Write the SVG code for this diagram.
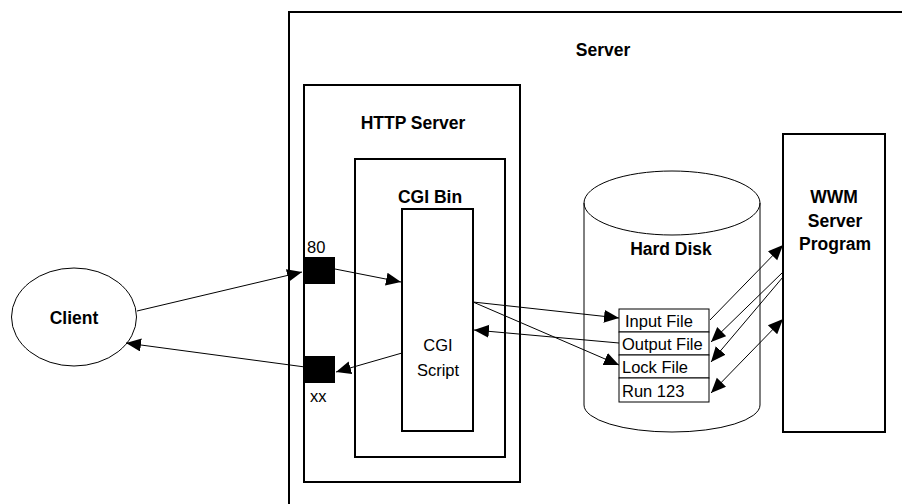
<svg xmlns="http://www.w3.org/2000/svg" width="902" height="504" viewBox="0 0 902 504">
<style>
.box{fill:none;stroke:#000;stroke-width:2}
.thin{fill:#fff;stroke:#000;stroke-width:1}
.b{font-family:"Liberation Sans",Arial,sans-serif;font-weight:bold;font-size:17.5px;fill:#000;text-anchor:middle}
.r{font-family:"Liberation Sans",Arial,sans-serif;font-size:16.5px;fill:#000}
.c{fill:none;stroke:#000;stroke-width:1}
</style>
<defs>
<marker id="ah" markerUnits="userSpaceOnUse" markerWidth="16" markerHeight="14" refX="15" refY="6.5" orient="auto">
<path d="M0,0 L15,6.5 L0,13 z" fill="#000"/>
</marker>
<marker id="as" markerUnits="userSpaceOnUse" markerWidth="16" markerHeight="14" refX="0" refY="6.5" orient="auto">
<path d="M15,0 L0,6.5 L15,13 z" fill="#000"/>
</marker>
</defs>
<rect width="902" height="504" fill="#fff"/>

<g id="server">
<rect class="box" x="289" y="12" width="700" height="600"/>
<text class="b" x="603" y="56">Server</text>
</g>

<g id="http-server">
<rect class="box" x="304" y="85" width="216" height="397"/>
<text class="b" x="413" y="129">HTTP Server</text>
</g>

<g id="cgi-bin">
<rect class="box" x="355" y="159" width="150" height="298"/>
<text class="b" x="430" y="203">CGI Bin</text>
</g>

<g id="cgi-script">
<rect class="box" x="402" y="209" width="71" height="222"/>
<text class="r" x="438" y="351" text-anchor="middle" font-size="17">CGI</text>
<text class="r" x="438" y="376" text-anchor="middle" font-size="17">Script</text>
</g>

<g id="port-80">
<rect x="305" y="257" width="30" height="27" fill="#000"/>
<text class="r" x="307" y="253" font-size="15">80</text>
</g>

<g id="port-xx">
<rect x="305" y="356" width="30" height="27" fill="#000"/>
<text class="r" x="310" y="402" font-size="15">xx</text>
</g>

<g id="client">
<ellipse class="thin" cx="74" cy="317" rx="62.5" ry="49"/>
<text class="b" x="74" y="324">Client</text>
</g>

<g id="hard-disk">
<path class="thin" d="M584,203 A88,32 0 0 1 760,203 L760,405 A88,27 0 0 1 584,405 Z"/>
<path class="c" d="M584,203 A88,32 0 0 0 760,203"/>
<text class="b" x="671" y="255">Hard Disk</text>
</g>

<g id="input-file">
<rect class="thin" x="619" y="309" width="90" height="23"/>
<text class="r" x="625" y="327">Input File</text>
</g>
<g id="output-file">
<rect class="thin" x="619" y="332" width="90" height="23"/>
<text class="r" x="622" y="350">Output File</text>
</g>
<g id="lock-file">
<rect class="thin" x="619" y="355" width="90" height="23"/>
<text class="r" x="622" y="373">Lock File</text>
</g>
<g id="run-123">
<rect class="thin" x="619" y="378" width="90" height="24"/>
<text class="r" x="622" y="397">Run 123</text>
</g>

<g id="wwm-server-program">
<rect class="box" x="783" y="134" width="102" height="298"/>
<text class="b" x="834" y="203">WWM</text>
<text class="b" x="835" y="227">Server</text>
<text class="b" x="835" y="250">Program</text>
</g>

<g id="connectors">
<line class="c" x1="137" y1="311" x2="302" y2="272" marker-end="url(#ah)"/>
<line class="c" x1="305" y1="367" x2="126" y2="343" marker-end="url(#ah)"/>
<line class="c" x1="335" y1="269" x2="401" y2="282" marker-end="url(#ah)"/>
<line class="c" x1="402" y1="353" x2="336" y2="372" marker-end="url(#ah)"/>
<line class="c" x1="473" y1="302" x2="619" y2="318" marker-end="url(#ah)"/>
<line class="c" x1="473" y1="302" x2="619" y2="365" marker-end="url(#ah)"/>
<line class="c" x1="619" y1="343" x2="474" y2="330" marker-end="url(#ah)"/>
<line class="c" x1="710" y1="320" x2="783" y2="245" marker-end="url(#ah)"/>
<line class="c" x1="783" y1="272" x2="711" y2="342" marker-end="url(#ah)"/>
<line class="c" x1="783" y1="277" x2="711" y2="362" marker-end="url(#ah)"/>
<line class="c" x1="783" y1="319" x2="711" y2="393" marker-start="url(#as)" marker-end="url(#ah)"/>
</g>
</svg>
